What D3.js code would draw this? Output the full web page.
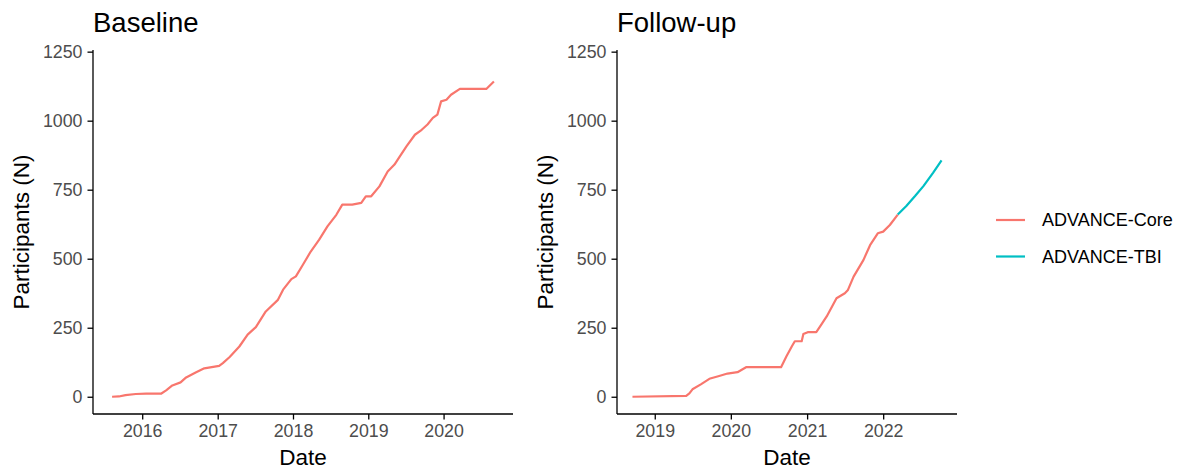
<!DOCTYPE html>
<html>
<head>
<meta charset="utf-8">
<script src="https://cdn.jsdelivr.net/npm/d3@7"></script>
<style>
  html, body { margin: 0; padding: 0; background: #fff; }
  svg { display: block; font-family: "Liberation Sans", Arial, Helvetica, sans-serif; }
</style>
</head>
<body>
<svg id="chart" width="1182" height="473"></svg>
<script>
// Cumulative enrolment, baseline visits (ADVANCE-Core)
const baselineDates = ["2015-08-08","2015-09-10","2015-10-12","2015-12-01","2016-01-20","2016-04-01","2016-04-26","2016-05-26","2016-07-05","2016-08-01","2016-09-16","2016-10-28","2017-01-08","2017-01-26","2017-02-28","2017-04-16","2017-05-26","2017-07-05","2017-08-22","2017-10-20","2017-11-14","2017-12-24","2018-01-15","2018-02-18","2018-03-28","2018-05-08","2018-06-17","2018-07-30","2018-08-28","2018-10-15","2018-11-28","2018-12-20","2019-01-15","2019-02-24","2019-04-05","2019-05-08","2019-06-03","2019-07-05","2019-08-15","2019-09-17","2019-10-15","2019-11-10","2019-12-02","2019-12-20","2020-01-15","2020-02-06","2020-03-20","2020-07-26","2020-09-01"];
const baselineCore = [0,1,6,10,11,11,23,41,52,70,88,103,112,122,144,182,225,252,309,351,388,426,436,478,526,569,617,659,696,696,702,726,726,762,816,841,871,907,949,967,986,1010,1022,1070,1076,1094,1115,1115,1142];

// Cumulative follow-up visits: ADVANCE-Core, then ADVANCE-TBI
const followCoreDates = ["2018-09-16","2019-06-01","2019-06-16","2019-07-01","2019-08-10","2019-09-20","2019-11-06","2019-12-16","2020-02-02","2020-03-14","2020-08-29","2020-09-24","2020-10-20","2020-11-03","2020-12-06","2020-12-14","2021-01-04","2021-02-14","2021-03-10","2021-04-05","2021-05-22","2021-07-01","2021-07-16","2021-08-12","2021-09-28","2021-10-30","2021-12-06","2022-01-01","2022-02-02","2022-03-12"];
const followCore = [0,3,12,27,45,65,75,84,89,107,107,147,183,201,201,227,234,234,261,291,357,375,387,435,495,549,592,598,622,660];
const followTbiDates = ["2022-03-12","2022-04-22","2022-06-03","2022-07-13","2022-08-29","2022-10-08"];
const followTbi = [660,691,727,763,812,856];

const yTicks = [0, 250, 500, 750, 1000, 1250];
const seriesNames = ["ADVANCE-Core", "ADVANCE-TBI"];
const seriesColors = ["#F8766D", "#00BFC4"];

const parse = d3.timeParse("%Y-%m-%d");
const zip = (ds, vs) => ds.map((d, i) => ({ date: parse(d), n: vs[i] }));

const svg = d3.select("#chart");
const plotTop = 50, plotBottom = 414;
const yScale = d3.scaleLinear().domain([-62.5, 1256]).range([plotBottom, plotTop]);

function expandTime(ext) {
  const span = ext[1] - ext[0];
  return [new Date(+ext[0] - span * 0.05), new Date(+ext[1] + span * 0.05)];
}

function panel(opts) {
  const { x0, x1, title, series } = opts;
  const all = series.flatMap(s => s.data);
  const xScale = d3.scaleTime()
    .domain(expandTime(d3.extent(all, d => d.date)))
    .range([x0, x1]);
  const g = svg.append("g");

  const line = d3.line().x(d => xScale(d.date)).y(d => yScale(d.n));
  series.forEach(s => {
    g.append("path")
      .datum(s.data)
      .attr("fill", "none")
      .attr("stroke", s.color)
      .attr("stroke-width", 2.2)
      .attr("stroke-linejoin", "round")
      .attr("d", line);
  });

  // y axis
  const yAx = g.append("g")
    .attr("transform", `translate(${x0},0)`)
    .call(d3.axisLeft(yScale).tickValues(yTicks).tickSize(5.5).tickPadding(5).tickFormat(d3.format("d")));
  // x axis
  const years = d3.timeYear.range(d3.timeYear.ceil(xScale.domain()[0]), xScale.domain()[1]);
  const xAx = g.append("g")
    .attr("transform", `translate(0,${plotBottom})`)
    .call(d3.axisBottom(xScale).tickValues(years).tickSize(5.5).tickPadding(5).tickFormat(d3.timeFormat("%Y")));

  [yAx, xAx].forEach(ax => {
    ax.select(".domain").attr("stroke", "#000").attr("stroke-width", 1.3);
    ax.selectAll(".tick line").attr("stroke", "#000").attr("stroke-width", 1.3);
    ax.selectAll(".tick text").attr("fill", "#4D4D4D").attr("font-size", 17.8)
      .attr("font-family", "Liberation Sans, Arial, sans-serif");
  });
  // plain axis lines meeting at the corner
  yAx.select(".domain").attr("d", `M0,${plotTop}V${plotBottom}`);
  xAx.select(".domain").attr("d", `M${x0},0H${x1}`);

  g.append("text")
    .attr("x", x0).attr("y", 32)
    .attr("font-size", 27.5).attr("fill", "#000")
    .text(title);

  g.append("text")
    .attr("x", (x0 + x1) / 2).attr("y", 465)
    .attr("text-anchor", "middle")
    .attr("font-size", 22.5).attr("fill", "#000")
    .text("Date");

  g.append("text")
    .attr("transform", `translate(${opts.yTitleX},${(plotTop + plotBottom) / 2}) rotate(-90)`)
    .attr("text-anchor", "middle")
    .attr("font-size", 22.5).attr("fill", "#000")
    .text("Participants (N)");
}

panel({
  x0: 93, x1: 513, title: "Baseline", yTitleX: 29,
  series: [{ data: zip(baselineDates, baselineCore), color: seriesColors[0] }]
});

panel({
  x0: 617, x1: 957, title: "Follow-up", yTitleX: 553,
  series: [
    { data: zip(followCoreDates, followCore), color: seriesColors[0] },
    { data: zip(followTbiDates, followTbi), color: seriesColors[1] }
  ]
});

// legend
const legend = svg.append("g");
seriesNames.forEach((name, i) => {
  const cy = 220 + i * 36.5;
  legend.append("line")
    .attr("x1", 996).attr("x2", 1025).attr("y1", cy).attr("y2", cy)
    .attr("stroke", seriesColors[i]).attr("stroke-width", 2.2);
  legend.append("text")
    .attr("x", 1042).attr("y", cy + 6.4)
    .attr("font-size", 18).attr("fill", "#000")
    .text(name);
});
</script>
</body>
</html>
